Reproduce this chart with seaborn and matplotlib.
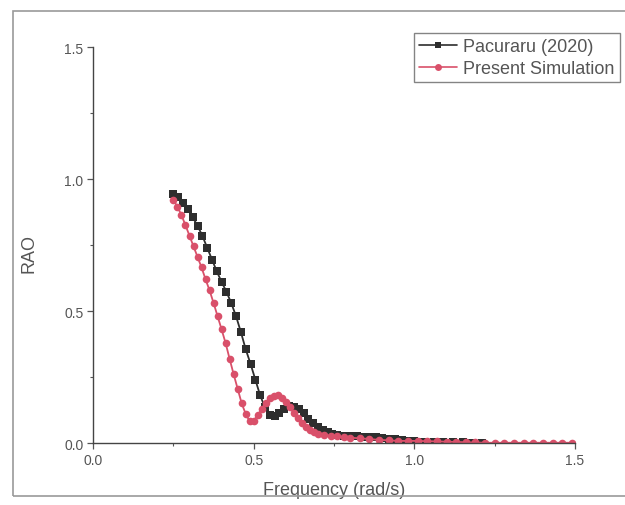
import matplotlib
matplotlib.use("Agg")
import matplotlib.pyplot as plt
import seaborn as sns
import pandas as pd
from matplotlib.patches import Rectangle
from matplotlib.lines import Line2D
from matplotlib.ticker import MultipleLocator

sns.set_theme(style="ticks")
plt.rcParams["font.family"] = ["Liberation Sans", "DejaVu Sans"]

# Pacuraru (2020) RAO
freq_pac = [0.25, 0.265, 0.28, 0.295, 0.31, 0.325, 0.34, 0.355, 0.37, 0.385,
            0.40, 0.415, 0.43, 0.445, 0.46, 0.475, 0.49, 0.505, 0.52, 0.535,
            0.55, 0.565, 0.58, 0.595, 0.61, 0.625, 0.64, 0.655, 0.67, 0.685,
            0.70, 0.715, 0.73, 0.745, 0.76, 0.78, 0.80, 0.82, 0.84, 0.86,
            0.88, 0.90, 0.92, 0.94, 0.96, 0.98, 1.00, 1.03, 1.06, 1.09,
            1.12, 1.15, 1.18, 1.21]
rao_pac = [0.945, 0.93, 0.91, 0.885, 0.855, 0.823, 0.785, 0.74, 0.695, 0.65,
           0.61, 0.573, 0.53, 0.48, 0.42, 0.355, 0.30, 0.24, 0.18, 0.135,
           0.105, 0.102, 0.115, 0.13, 0.14, 0.138, 0.13, 0.113, 0.09, 0.075,
           0.06, 0.048, 0.04, 0.034, 0.03, 0.027, 0.025, 0.025, 0.024, 0.024,
           0.022, 0.02, 0.017, 0.014, 0.01, 0.008, 0.006, 0.005, 0.004, 0.003,
           0.002, 0.002, 0.001, 0.001]

# Present simulation RAO
freq_sim = [0.25, 0.2625, 0.275, 0.2875, 0.30, 0.3125, 0.325, 0.3375, 0.35, 0.3625,
            0.375, 0.3875, 0.40, 0.4125, 0.425, 0.4375, 0.45, 0.4625, 0.475, 0.4875,
            0.50, 0.5125, 0.525, 0.5375, 0.55, 0.5625, 0.575, 0.5875, 0.60, 0.6125,
            0.625, 0.6375, 0.65, 0.6625, 0.675, 0.6875, 0.70, 0.72, 0.74, 0.76,
            0.78, 0.80, 0.83, 0.86, 0.89, 0.92, 0.95, 0.98, 1.01, 1.04,
            1.07, 1.10, 1.13, 1.16, 1.19, 1.22, 1.25, 1.28, 1.31, 1.34,
            1.37, 1.40, 1.43, 1.46, 1.49]
rao_sim = [0.92, 0.895, 0.863, 0.825, 0.785, 0.745, 0.705, 0.665, 0.62, 0.578,
           0.53, 0.48, 0.43, 0.378, 0.318, 0.26, 0.205, 0.15, 0.11, 0.082,
           0.085, 0.105, 0.13, 0.152, 0.17, 0.179, 0.18, 0.172, 0.155, 0.135,
           0.112, 0.093, 0.075, 0.062, 0.05, 0.041, 0.035, 0.03, 0.027, 0.025,
           0.022, 0.02, 0.018, 0.015, 0.012, 0.01, 0.008, 0.008, 0.008, 0.007,
           0.006, 0.005, 0.004, 0.003, 0.002, 0.001, 0.001, 0.001, 0.001, 0.001,
           0.001, 0.001, 0.001, 0.001, 0.001]

label_pac = "Pacuraru (2020)"
label_sim = "Present Simulation"

df = pd.concat([
    pd.DataFrame({"Frequency": freq_pac, "RAO": rao_pac, "Source": label_pac}),
    pd.DataFrame({"Frequency": freq_sim, "RAO": rao_sim, "Source": label_sim}),
], ignore_index=True)

palette = {label_pac: "#2e2e2e", label_sim: "#d9506a"}
markers = {label_pac: "s", label_sim: "o"}

fig = plt.figure(figsize=(6.25, 5.06), dpi=100)
ax = fig.add_axes([0.149, 0.1225, 0.771, 0.7826])

sns.lineplot(data=df, x="Frequency", y="RAO", hue="Source", style="Source",
             palette=palette, markers=markers, dashes=False, sort=False,
             markersize=5.5, markeredgewidth=0, linewidth=1.3, ax=ax, legend=False)

ax.set_xlim(0, 1.5)
ax.set_ylim(0, 1.5)
ax.xaxis.set_minor_locator(MultipleLocator(0.25))
ax.yaxis.set_minor_locator(MultipleLocator(0.25))
ax.set_xticks([0, 0.5, 1.0, 1.5], ["0.0", "0.5", "1.0", "1.5"])
ax.set_yticks([0, 0.5, 1.0, 1.5], ["0.0", "0.5", "1.0", "1.5"])
ax.tick_params(axis="both", which="major", direction="out", length=4.5,
               width=0.9, color="#555555", labelsize=10, labelcolor="#555555",
               pad=2.5)
ax.tick_params(axis="both", which="minor", direction="out", length=2.5,
               width=0.8, color="#555555")
for side in ["top", "right"]:
    ax.spines[side].set_visible(False)
for side in ["left", "bottom"]:
    ax.spines[side].set_color("#444444")
    ax.spines[side].set_linewidth(1.0)

ax.set_xlabel("Frequency (rad/s)", fontsize=13, color="#555555")
ax.set_ylabel("RAO", fontsize=13, color="#555555")
ax.xaxis.set_label_coords(0.5, -0.095)
ax.yaxis.set_label_coords(-0.116, 0.48)

handles = [
    Line2D([], [], color=palette[label_pac], marker="s", markersize=5,
           markeredgewidth=0, linewidth=1.2),
    Line2D([], [], color=palette[label_sim], marker="o", markersize=5,
           markeredgewidth=0, linewidth=1.2),
]
leg = fig.legend(handles, [label_pac, label_sim], loc="upper right",
                 bbox_to_anchor=(0.992, 0.933), fontsize=13, frameon=True,
                 fancybox=False, handlelength=2.1, borderpad=0.3,
                 labelspacing=0.25, handletextpad=0.35, borderaxespad=0)
leg.get_frame().set_edgecolor("#666666")
leg.get_frame().set_linewidth(1.0)
for t in leg.get_texts():
    t.set_color("#555555")

# page frame around the figure
fig.add_artist(Rectangle((0.021, 0.018), 1.2, 0.958, transform=fig.transFigure,
                         fill=False, edgecolor="#9a9a9a", linewidth=1.2))

fig.savefig("out.png", dpi=100)
